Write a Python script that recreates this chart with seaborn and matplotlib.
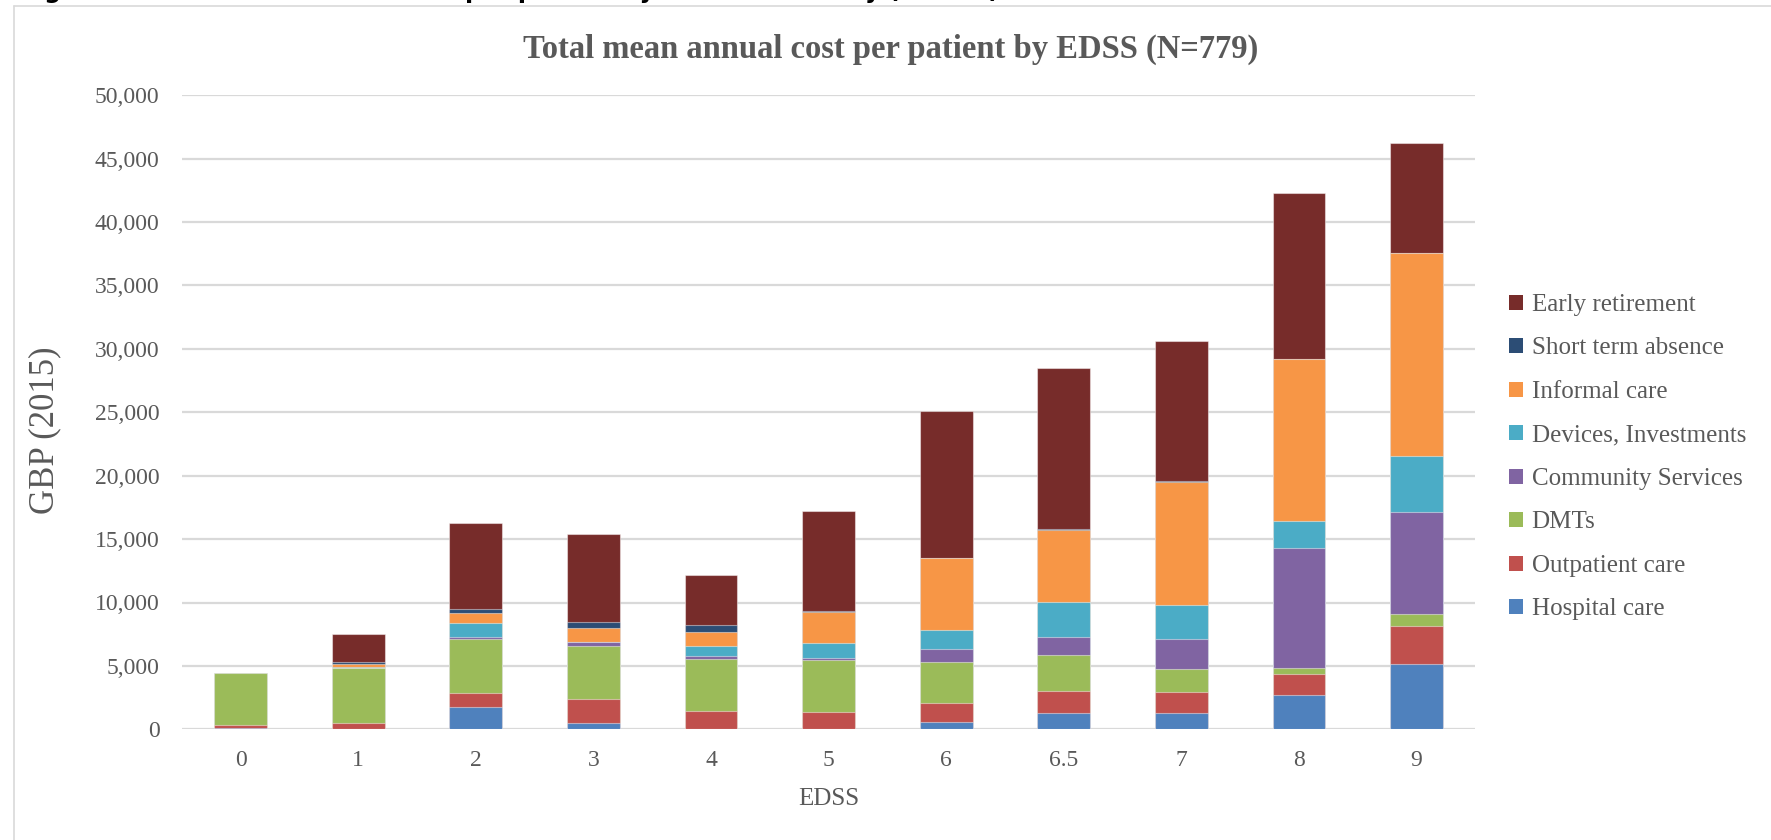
import numpy as np
import pandas as pd
import matplotlib
matplotlib.use("Agg")
import matplotlib.pyplot as plt
from matplotlib.patches import Patch
from matplotlib.lines import Line2D
from matplotlib.ticker import FuncFormatter, MultipleLocator
import seaborn as sns

# ---------------- data ----------------
edss = ["0", "1", "2", "3", "4", "5", "6", "6.5", "7", "8", "9"]
hospital_care = [120, 50, 1760, 470, 30, 50, 540, 1260, 1260, 2730, 5170]
outpatient_care = [250, 470, 1080, 1940, 1440, 1310, 1510, 1760, 1680, 1650, 3000]
dmts = [4050, 4310, 4300, 4180, 4050, 4110, 3230, 2840, 1840, 430, 950]
community_services = [0, 0, 100, 270, 260, 150, 1080, 1400, 2360, 9470, 8000]
devices_investments = [0, 50, 1120, 50, 790, 1160, 1450, 2800, 2690, 2140, 4420]
informal_care = [0, 300, 840, 1100, 1100, 2450, 5680, 5660, 9680, 12800, 16040]
short_term_absence = [0, 100, 290, 450, 530, 100, 50, 50, 50, 0, 0]
early_retirement = [0, 2200, 6800, 6940, 3940, 7900, 11600, 12700, 11100, 13040, 8690]

series_names = ["Hospital care", "Outpatient care", "DMTs", "Community Services",
                "Devices, Investments", "Informal care", "Short term absence",
                "Early retirement"]
series_values = [hospital_care, outpatient_care, dmts, community_services,
                 devices_investments, informal_care, short_term_absence,
                 early_retirement]
series_colors = ["#4F81BD", "#C0504D", "#9BBB59", "#8064A2",
                 "#4BACC6", "#F79646", "#2C4D75", "#772C2A"]

title = "Total mean annual cost per patient by EDSS (N=779)"
caption = "Figure 4: Total mean annual cost per patient by disease severity (N=779)"

# ---------------- style ----------------
sns.set_theme(style="white")
plt.rcParams["font.family"] = ["Liberation Serif", "DejaVu Serif"]
TXT = "#595959"
GRID = "#D9D9D9"

W, H = 1771, 840
fig = plt.figure(figsize=(W / 100, H / 100), dpi=100)
fig.patch.set_facecolor("white")

ax_left, ax_right = 181.8, 1475.4
ax_top, ax_bottom = 95.3, 729.3
ax = fig.add_axes([ax_left / W, 1 - ax_bottom / H,
                   (ax_right - ax_left) / W, (ax_bottom - ax_top) / H])

# stacked bars via overlaid cumulative totals
df = pd.DataFrame({n: v for n, v in zip(series_names, series_values)}, index=edss)
cum = df.cumsum(axis=1)
for i in range(len(series_names) - 1, -1, -1):
    name = series_names[i]
    sns.barplot(x=edss, y=cum[name].values, order=edss, color=series_colors[i],
                saturation=1, width=0.45, ax=ax, errorbar=None,
                edgecolor=(1, 1, 1, 0.45), linewidth=0.8, zorder=3)

ax.set_xlim(-0.5, len(edss) - 0.5)
ax.set_ylim(0, 50000)
ax.yaxis.set_major_locator(MultipleLocator(5000))
ax.yaxis.set_major_formatter(FuncFormatter(lambda v, p: f"{int(v):,}"))
ax.grid(axis="y", color=GRID, linewidth=1.6, zorder=0)
ax.grid(axis="x", visible=False)
ax.set_axisbelow(True)
for s in ax.spines.values():
    s.set_visible(False)
ax.tick_params(axis="both", length=0, labelsize=17, labelcolor=TXT)
ax.tick_params(axis="y", pad=16)
ax.tick_params(axis="x", pad=15)

ax.set_xlabel("EDSS", fontsize=18, color=TXT)
ax.xaxis.label.set_va("center")
ax.xaxis.set_label_coords(0.5, -(799 - ax_bottom) / (ax_bottom - ax_top))
ax.set_ylabel("GBP (2015)", fontsize=25, color=TXT)
ax.yaxis.label.set_va("center")
ax.yaxis.set_label_coords((45 - ax_left) / (ax_right - ax_left),
                          (ax_bottom - 430) / (ax_bottom - ax_top))

fig.text(891 / W, 1 - 49 / H, title, fontsize=23.5, fontweight="bold",
         color=TXT, ha="center", va="center")

# legend (top entry = Early retirement)
handles = [Patch(facecolor=series_colors[i], edgecolor="none")
           for i in range(len(series_names) - 1, -1, -1)]
labels = [series_names[i] for i in range(len(series_names) - 1, -1, -1)]
leg = fig.legend(handles, labels, loc="upper left",
                 bbox_to_anchor=(1509 / W, 1 - 294 / H), frameon=False,
                 fontsize=18, handlelength=0.55, handleheight=0.55,
                 handletextpad=0.35, labelspacing=0.86, borderaxespad=0,
                 borderpad=0)
for t in leg.get_texts():
    t.set_color(TXT)

# chart frame and clipped caption above it
fig.add_artist(Line2D([14 / W, 1.0], [1 - 6 / H, 1 - 6 / H], color=GRID, lw=1.2,
                      transform=fig.transFigure))
fig.add_artist(Line2D([14 / W, 14 / W], [0, 1 - 6 / H], color=GRID, lw=1.2,
                      transform=fig.transFigure))
fig.text(20 / W, 1 + 2 / H, caption, fontsize=17, fontweight="bold",
         color="black", ha="left", va="baseline", family=["DejaVu Sans"])

fig.savefig("out.png", dpi=100, facecolor="white")
